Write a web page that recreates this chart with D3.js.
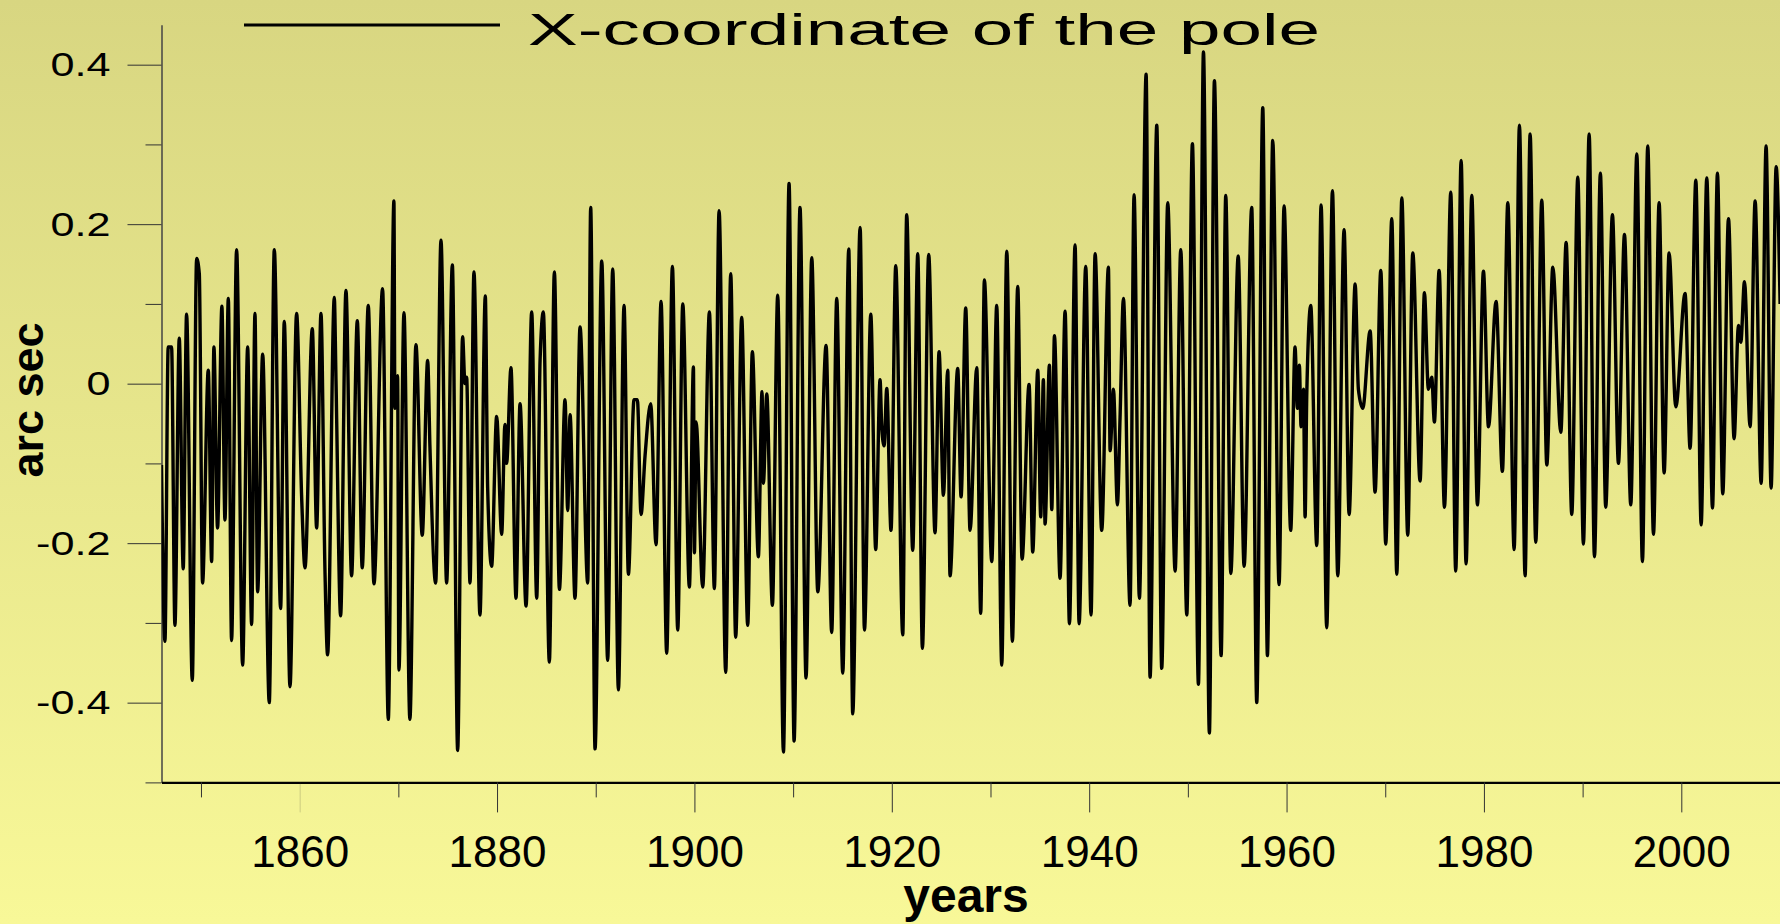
<!DOCTYPE html>
<html>
<head>
<meta charset="utf-8">
<script src="https://cdn.jsdelivr.net/npm/d3@7"></script>
<style>
  body { margin: 0; background: #f8f898; }
  svg { display: block; }
  text { font-family: "Liberation Sans", Arial, sans-serif; fill: #000; }
</style>
</head>
<body>
<svg id="chart" width="1780" height="924"></svg>
<script>
// turning points of the curve
const years = [
  1846.00, 1846.35, 1846.68, 1847.02, 1847.36, 1847.80, 1848.20, 1848.54, 1849.12, 1849.56,
  1849.83, 1850.16, 1850.74, 1851.08, 1851.31, 1851.68, 1852.12, 1852.43, 1852.77, 1853.10,
  1853.61, 1854.22, 1854.73, 1855.13, 1855.47, 1855.74, 1856.25, 1856.92, 1857.43, 1858.07,
  1858.44, 1859.02, 1859.69, 1860.20, 1860.54, 1861.28, 1861.72, 1862.16, 1862.56, 1862.83,
  1863.51, 1863.68, 1864.15, 1864.69, 1865.26, 1865.84, 1866.34, 1866.95, 1867.53, 1868.40,
  1868.98, 1869.55, 1869.65, 1869.92, 1870.06, 1870.57, 1871.17, 1871.78, 1872.42, 1872.97,
  1873.20, 1873.78, 1874.32, 1874.89, 1875.47, 1876.01, 1876.51, 1876.75, 1876.92, 1877.26,
  1877.66, 1878.27, 1878.81, 1879.05, 1879.45, 1879.96, 1880.47, 1880.80, 1880.97, 1881.41,
  1881.92, 1882.33, 1882.94, 1883.51, 1884.02, 1884.36, 1884.69, 1885.30, 1885.81, 1886.32,
  1886.89, 1887.16, 1887.40, 1887.90, 1888.41, 1889.19, 1889.49, 1889.93, 1890.61, 1891.21,
  1891.72, 1892.30, 1892.87, 1893.31, 1893.88, 1894.22, 1894.59, 1895.00, 1895.57, 1896.11,
  1896.62, 1897.19, 1897.77, 1898.31, 1898.82, 1899.49, 1899.90, 1900.00, 1900.17, 1900.84,
  1901.52, 1902.02, 1902.50, 1903.17, 1903.68, 1904.18, 1904.79, 1905.40, 1905.87, 1906.48,
  1906.85, 1906.99, 1907.33, 1907.90, 1908.44, 1909.02, 1909.59, 1910.10, 1910.70, 1911.31,
  1911.89, 1912.50, 1913.34, 1913.91, 1914.42, 1915.03, 1915.64, 1916.04, 1916.79, 1917.23,
  1917.87, 1918.37, 1918.81, 1918.98, 1919.22, 1919.49, 1919.92, 1920.40, 1921.11, 1921.51,
  1922.12, 1922.63, 1923.10, 1923.74, 1924.38, 1924.79, 1925.23, 1925.67, 1925.90, 1926.68,
  1927.02, 1927.49, 1927.93, 1928.61, 1929.01, 1929.38, 1930.13, 1930.63, 1931.14, 1931.65,
  1932.22, 1932.76, 1933.20, 1933.91, 1934.28, 1934.79, 1935.09, 1935.36, 1935.53, 1935.97,
  1936.21, 1936.48, 1937.05, 1937.56, 1938.00, 1938.57, 1938.98, 1939.65, 1940.19, 1940.60,
  1941.27, 1941.95, 1942.12, 1942.46, 1942.86, 1943.13, 1943.47, 1944.14, 1944.55, 1945.09,
  1945.77, 1946.17, 1946.85, 1947.35, 1947.96, 1948.71, 1949.28, 1949.89, 1950.46, 1951.07,
  1951.58, 1952.18, 1952.69, 1953.37, 1953.84, 1954.35, 1955.10, 1955.70, 1956.47, 1956.98,
  1957.59, 1958.06, 1958.60, 1959.24, 1959.75, 1960.42, 1960.86, 1961.10, 1961.30, 1961.47,
  1961.71, 1961.88, 1962.05, 1962.45, 1963.06, 1963.50, 1964.07, 1964.65, 1965.19, 1965.83,
  1966.34, 1966.95, 1967.28, 1967.72, 1968.47, 1968.97, 1969.55, 1970.05, 1970.66, 1971.17,
  1971.68, 1972.28, 1972.79, 1973.53, 1973.97, 1974.37, 1974.71, 1974.98, 1975.46, 1976.00,
  1976.64, 1977.14, 1977.69, 1978.19, 1978.77, 1979.34, 1979.95, 1980.46, 1981.23, 1981.87,
  1982.42, 1983.06, 1983.60, 1984.17, 1984.68, 1985.25, 1985.86, 1986.37, 1986.98, 1987.79,
  1988.33, 1988.90, 1989.51, 1990.08, 1990.66, 1991.20, 1991.80, 1992.34, 1993.02, 1993.63,
  1994.24, 1994.88, 1995.49, 1996.06, 1996.60, 1997.18, 1997.75, 1998.26, 1998.76, 1999.44,
  2000.38, 2000.89, 2001.47, 2002.01, 2002.58, 2003.16, 2003.66, 2004.20, 2004.78, 2005.35,
  2005.79, 2006.03, 2006.40, 2006.97, 2007.48, 2008.09, 2008.59, 2009.10, 2009.61, 2010.01
];
const poleX = [
  -0.102, -0.323, 0.046, 0.046, -0.303, 0.057, -0.232, 0.087, -0.372, 0.157,
  0.138, -0.250, 0.017, -0.223, 0.046, -0.181, 0.097, -0.171, 0.107, -0.322,
  0.168, -0.353, 0.046, -0.302, 0.088, -0.261, 0.037, -0.400, 0.168, -0.282,
  0.078, -0.380, 0.088, -0.142, -0.231, 0.069, -0.181, 0.088, -0.232, -0.340,
  0.108, 0.005, -0.291, 0.117, -0.241, 0.079, -0.231, 0.098, -0.251, 0.119,
  -0.421, 0.229, -0.031, 0.010, -0.359, 0.089, -0.421, 0.049, -0.190, 0.029,
  -0.079, -0.250, 0.180, -0.250, 0.149, -0.460, 0.059, 0.000, 0.008, -0.250,
  0.140, -0.290, 0.110, -0.131, -0.229, -0.041, -0.189, -0.051, -0.100, 0.020,
  -0.269, -0.025, -0.279, 0.090, -0.269, 0.029, 0.090, -0.349, 0.140, -0.258,
  -0.020, -0.159, -0.039, -0.269, 0.071, -0.250, 0.221, -0.458, 0.154, -0.347,
  0.144, -0.384, 0.098, -0.239, -0.020, -0.020, -0.164, -0.090, -0.025, -0.202,
  0.103, -0.338, 0.147, -0.309, 0.100, -0.255, 0.021, -0.212, -0.048, -0.255,
  0.090, -0.257, 0.217, -0.362, 0.138, -0.318, 0.083, -0.303, 0.040, -0.217,
  -0.010, -0.125, -0.013, -0.278, 0.111, -0.462, 0.251, -0.448, 0.221, -0.369,
  0.158, -0.261, 0.048, -0.312, 0.107, -0.363, 0.169, -0.414, 0.196, -0.309,
  0.087, -0.208, 0.005, -0.054, -0.078, -0.006, -0.184, 0.148, -0.315, 0.212,
  -0.209, 0.163, -0.332, 0.162, -0.187, 0.040, -0.140, 0.017, -0.241, 0.019,
  -0.142, 0.095, -0.184, 0.020, -0.288, 0.130, -0.223, 0.098, -0.353, 0.166,
  -0.323, 0.122, -0.220, -0.001, -0.211, 0.017, -0.167, 0.005, -0.176, 0.023,
  -0.158, 0.060, -0.244, 0.091, -0.301, 0.174, -0.301, 0.147, -0.290, 0.163,
  -0.184, 0.146, -0.084, -0.007, -0.152, -0.042, 0.107, -0.278, 0.237, -0.269,
  0.388, -0.368, 0.324, -0.357, 0.227, -0.235, 0.168, -0.290, 0.301, -0.377,
  0.416, -0.438, 0.380, -0.341, 0.236, -0.238, 0.160, -0.229, 0.221, -0.400,
  0.346, -0.341, 0.305, -0.252, 0.223, -0.184, 0.046, -0.031, 0.023, -0.054,
  -0.007, -0.167, -0.013, 0.098, -0.203, 0.224, -0.306, 0.242, -0.241, 0.193,
  -0.164, 0.125, -0.007, -0.031, 0.066, -0.136, 0.142, -0.201, 0.207, -0.239,
  0.233, -0.190, 0.164, -0.122, 0.114, -0.007, 0.008, -0.048, 0.142, -0.155,
  0.240, -0.235, 0.280, -0.226, 0.236, -0.152, 0.141, -0.054, 0.103, -0.110,
  0.227, -0.208, 0.324, -0.241, 0.313, -0.199, 0.230, -0.102, 0.146, -0.061,
  0.177, -0.164, 0.259, -0.201, 0.313, -0.217, 0.264, -0.155, 0.212, -0.100,
  0.187, -0.152, 0.288, -0.223, 0.298, -0.189, 0.227, -0.112, 0.164, -0.029,
  0.113, -0.081, 0.255, -0.177, 0.258, -0.156, 0.264, -0.138, 0.207, -0.069,
  0.073, 0.052, 0.128, -0.054, 0.229, -0.125, 0.298, -0.131, 0.272, 0.100
];
const yMajorTicks = [-0.4, -0.2, 0, 0.2, 0.4];
const yMinorTicks = [-0.5, -0.3, -0.1, 0.1, 0.3];
const xMajorTicks = [1860, 1880, 1900, 1920, 1940, 1960, 1980, 2000];
const xMinorTicks = [1850, 1870, 1890, 1910, 1930, 1950, 1970, 1990, 2010];
const titleText = "X-coordinate of the pole";
const xTitle = "years";
const yTitle = "arc sec";

const data = years.map((yr, i) => ({ year: yr, value: poleX[i] }));

const svg = d3.select("#chart");
const W = 1780, H = 924;

// background gradient
const grad = svg.append("defs").append("linearGradient")
    .attr("id", "bg").attr("x1", 0).attr("y1", 0).attr("x2", 0).attr("y2", 1);
grad.append("stop").attr("offset", "0%").attr("stop-color", "#d8d681");
grad.append("stop").attr("offset", "100%").attr("stop-color", "#f8f898");
svg.append("rect").attr("width", W).attr("height", H).attr("fill", "url(#bg)");

const x = d3.scaleLinear().domain([1846, 2010]).range([161.5, 1780]);
const y = d3.scaleLinear().domain([-0.5, 0.45]).range([782.4, 24.8]);

// y axis
const fmt = d => d === 0 ? "0" : d.toFixed(1);
const yAxis = svg.append("g")
    .attr("transform", "translate(" + x(1846) + ",0)")
    .call(d3.axisLeft(y).tickValues(yMajorTicks).tickSize(34).tickSizeOuter(0)
      .tickPadding(17).tickFormat(fmt));
yAxis.select(".domain").attr("stroke", "#444").attr("stroke-width", 1.5);
yAxis.selectAll(".tick line").attr("stroke", "#333");
yAxis.selectAll("text")
    .attr("font-size", 34)
    .attr("font-family", "'Liberation Sans', Arial, sans-serif")
    .each(function(){
      const w = this.getComputedTextLength();
      d3.select(this).attr("textLength", w * 1.27).attr("lengthAdjust", "spacingAndGlyphs");
    });
svg.append("g")
    .attr("transform", "translate(" + x(1846) + ",0)")
    .call(d3.axisLeft(y).tickValues(yMinorTicks).tickSize(16).tickFormat(""))
    .call(g => g.select(".domain").remove())
    .selectAll(".tick line").attr("stroke", "#333");

// x axis
const xAxis = svg.append("g")
    .attr("transform", "translate(0," + y(-0.5) + ")")
    .call(d3.axisBottom(x).tickValues(xMajorTicks).tickSize(30).tickSizeOuter(0)
      .tickPadding(23).tickFormat(d3.format("d")));
xAxis.select(".domain").attr("stroke", "#000").attr("stroke-width", 2.2);
xAxis.selectAll(".tick line").attr("stroke", "#333");
xAxis.selectAll(".tick").filter(d => d === 1860).select("line").attr("stroke-opacity", 0.2);
xAxis.selectAll("text")
    .attr("font-size", 44)
    .attr("font-family", "'Liberation Sans', Arial, sans-serif");
svg.append("g")
    .attr("transform", "translate(0," + y(-0.5) + ")")
    .call(d3.axisBottom(x).tickValues(xMinorTicks).tickSize(15).tickFormat(""))
    .call(g => g.select(".domain").remove())
    .selectAll(".tick line").attr("stroke", "#333");

// axis titles
svg.append("text")
    .attr("x", 966).attr("y", 912)
    .attr("text-anchor", "middle")
    .attr("font-size", 48).attr("font-weight", "bold")
    .text(xTitle);
svg.append("text")
    .attr("transform", "translate(43,400) rotate(-90)")
    .attr("text-anchor", "middle")
    .attr("font-size", 45).attr("font-weight", "bold")
    .text(yTitle);

// data line
svg.append("clipPath").attr("id", "plot")
  .append("rect").attr("x", x(1846)).attr("y", 0).attr("width", W - x(1846)).attr("height", y(-0.5));
svg.append("path")
    .datum(data)
    .attr("clip-path", "url(#plot)")
    .attr("fill", "none")
    .attr("stroke", "#000")
    .attr("stroke-width", 3.4)
    .attr("stroke-linejoin", "round")
    .attr("d", d3.line().curve(d3.curveMonotoneX)
      .x(d => x(d.year)).y(d => y(d.value)));

// legend / title
const legend = svg.append("g").attr("class", "legend");
legend.append("line")
    .attr("x1", 244).attr("x2", 500).attr("y1", 25).attr("y2", 25)
    .attr("stroke", "#000").attr("stroke-width", 3);
legend.append("text")
    .attr("x", 528).attr("y", 45)
    .attr("font-size", 45)
    .attr("textLength", 792).attr("lengthAdjust", "spacingAndGlyphs")
    .text(titleText);
</script>
</body>
</html>
